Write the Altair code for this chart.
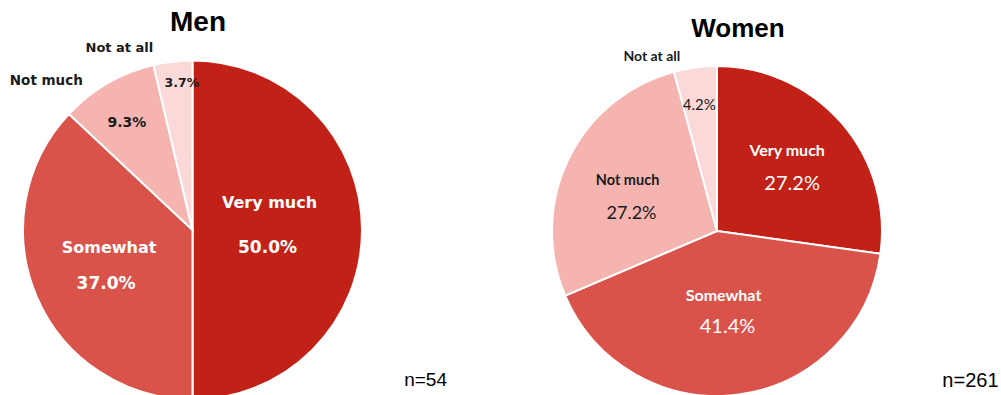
import altair as alt
import pandas as pd

# ---- data ----
categories = ["Very much", "Somewhat", "Not much", "Not at all"]
men_values = [50.0, 37.0, 9.3, 3.7]
women_values = [27.2, 41.4, 27.2, 4.2]
panel_titles = ["Men", "Women"]
sample_sizes = [54, 261]
colors = ["#C22117", "#D9534B", "#F5B4B0", "#FAD9D8"]

DARK = "#1a1a1a"
theta_scale = alt.Scale(domain=[0, 100])


def pie_layers(values, cx, cy, R, spec):
    df = pd.DataFrame({"category": categories, "value": values, "idx": list(range(len(categories)))})
    arc = alt.Chart(df).mark_arc(outerRadius=R, stroke="white", strokeWidth=2).encode(
        theta=alt.Theta("value:Q", stack=True, scale=theta_scale),
        color=alt.Color("category:N", scale=alt.Scale(domain=categories, range=colors), legend=None),
        order=alt.Order("idx:Q"),
        x=alt.value(cx),
        y=alt.value(cy),
    )
    base = alt.Chart(df).transform_window(
        cum="sum(value)", sort=[alt.SortField("idx")], frame=[None, 0]
    ).transform_calculate(
        mid="datum.cum - datum.value / 2",
        pct="format(datum.value, '.1f') + '%'",
    )
    layers = [arc]
    for cat, kind, r, dx, dy, font, size, weight, color in spec:
        field = "category" if kind == "name" else "pct"
        layers.append(
            base.transform_filter(alt.datum.category == cat)
            .mark_text(radius=r, dx=dx, dy=dy, font=font, fontSize=size, fontWeight=weight,
                       color=color, align="center", baseline="middle")
            .encode(theta=alt.Theta("mid:Q", scale=theta_scale),
                    text=alt.Text(f"{field}:N"),
                    x=alt.value(cx), y=alt.value(cy))
        )
    return layers


MF = "DejaVu Sans"
men_spec = [
    ("Very much", "name", 76, 1, -27, MF, 16, "bold", "white"),
    ("Very much", "pct", 76, -1, 18, MF, 17, "bold", "white"),
    ("Somewhat", "name", 92, 1, -18.5, MF, 16, "bold", "white"),
    ("Somewhat", "pct", 92, -2, 17.5, MF, 17, "bold", "white"),
    ("Not much", "pct", 125, -3, 1, MF, 14, "bold", DARK),
    ("Not much", "name", 190, -51, 15, MF, 13.5, "bold", DARK),
    ("Not at all", "pct", 147, 6.5, -1, MF, 12.5, "bold", DARK),
    ("Not at all", "name", 182, -52, -1, MF, 13, "bold", DARK),
]
WF = "Lato"
women_spec = [
    ("Very much", "name", 93, 0, -19, WF, 16, "bold", "white"),
    ("Very much", "pct", 93, 5, 14, WF, 20, "normal", "white"),
    ("Somewhat", "name", 80, -4, -14, WF, 16, "bold", "white"),
    ("Somewhat", "pct", 80, 0, 17, WF, 20, "normal", "white"),
    ("Not much", "name", 95, -4, -8, WF, 14.5, "bold", DARK),
    ("Not much", "pct", 95, 0, 25, WF, 18, "normal", DARK),
    ("Not at all", "pct", 127, -1, 0, WF, 15, "normal", DARK),
    ("Not at all", "name", 176, -42, 0, WF, 14, "bold", DARK),
]


def text_layer(txt, x, y, size, weight, align="center", font="Liberation Sans"):
    return alt.Chart(pd.DataFrame({"t": [txt]})).mark_text(
        font=font, fontSize=size, fontWeight=weight, color="black", align=align, baseline="middle"
    ).encode(text="t:N", x=alt.value(x), y=alt.value(y))


layers = []
layers += pie_layers(men_values, 192.5, 230, 169.5, men_spec)
layers += pie_layers(women_values, 717, 231, 165, women_spec)
layers += [
    text_layer(panel_titles[0], 198, 23, 28, "bold"),
    text_layer(panel_titles[1], 738, 29, 26, "bold"),
    text_layer(f"n={sample_sizes[0]}", 447, 380, 19, "normal", align="right"),
    text_layer(f"n={sample_sizes[1]}", 998.5, 381, 20, "normal", align="right"),
]

chart = alt.layer(*layers).properties(
    width=1001, height=395, padding=0, autosize="none", background="white"
).configure_view(stroke=None)

chart.save("out.html", embed_options={"renderer": "svg", "actions": False})
